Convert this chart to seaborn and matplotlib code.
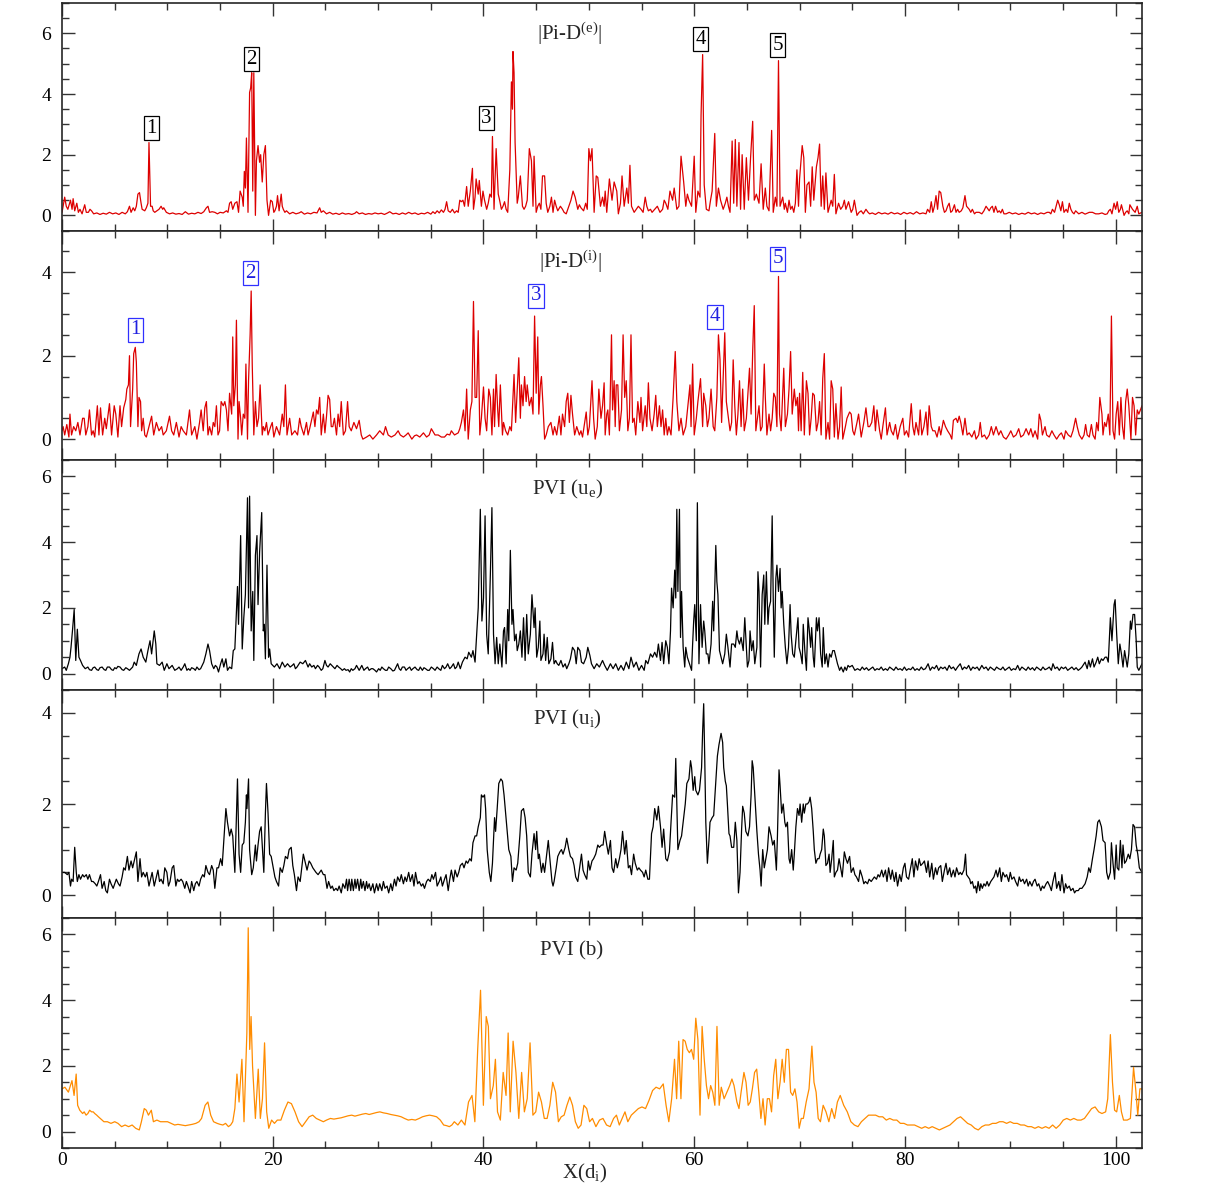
import matplotlib
matplotlib.use("Agg")
import numpy as np
import pandas as pd
import matplotlib.pyplot as plt
from matplotlib.ticker import MultipleLocator
import seaborn as sns

# |Pi-D(e)|  (x, value)
pid_e = [(0.0,0.1),(0.25,0.6),(0.4,0.3),(0.55,0.2),(0.8,0.5),(0.95,0.2),(1.05,0.55),(1.2,0.15),(1.4,0.4),(1.55,0.1),(1.7,0.2),(1.9,0.05),(2.15,0.35),(2.3,0.1),(2.5,0.1),(2.65,0.2),(2.8,0.15),(3.0,0.05),(3.3,0.08),(3.6,0.03),(3.9,0.07),(4.2,0.04),(4.5,0.1),(4.8,0.05),(5.1,0.08),(5.4,0.03),(5.7,0.1),(6.0,0.05),(6.2,0.12),(6.4,0.3),(6.55,0.1),(6.75,0.25),(6.9,0.15),(7.05,0.3),(7.2,0.7),(7.35,0.75),(7.5,0.4),(7.6,0.2),(7.85,0.15),(8.0,0.25),(8.15,0.4),(8.25,2.4),(8.4,0.3),(8.55,0.3),(8.65,0.15),(8.8,0.1),(9.0,0.15),(9.2,0.2),(9.4,0.3),(9.55,0.2),(9.65,0.25),(9.9,0.1),
         (10.2,0.05),(10.5,0.08),(10.8,0.04),(11.1,0.06),(11.4,0.03),(11.7,0.12),(12.0,0.04),(12.3,0.07),(12.6,0.05),(12.9,0.1),(13.2,0.06),(13.45,0.12),(13.7,0.25),(13.85,0.3),(14.0,0.1),(14.25,0.12),(14.5,0.1),(14.75,0.05),(15.0,0.1),(15.3,0.08),(15.6,0.15),(15.75,0.1),(15.9,0.4),(16.05,0.45),(16.2,0.2),(16.3,0.3),(16.4,0.4),(16.6,0.45),(16.75,0.1),(16.9,0.8),(17.1,0.6),(17.2,0.3),(17.3,1.45),(17.4,0.9),(17.5,2.55),(17.65,0.1),(17.8,4.05),(17.9,4.2),(18.0,4.7),(18.1,0.8),(18.2,4.7),(18.35,0.0),(18.45,1.8),(18.6,2.3),(18.75,1.75),(18.85,2.0),(19.0,1.1),(19.15,2.0),(19.3,2.3),(19.45,0.5),(19.6,0.0),(19.8,0.5),(19.95,0.45),
         (20.1,0.1),(20.2,0.15),(20.35,0.3),(20.45,0.65),(20.6,0.15),(20.8,0.7),(20.9,0.3),(21.0,0.2),(21.15,0.1),(21.3,0.15),(21.6,0.05),(21.9,0.1),(22.2,0.05),(22.5,0.08),(22.7,0.12),(23.0,0.04),(23.3,0.08),(23.6,0.05),(23.9,0.1),(24.2,0.08),(24.45,0.25),(24.6,0.1),(24.8,0.15),(25.1,0.05),(25.4,0.1),(25.7,0.04),(26.0,0.07),(26.3,0.03),(26.6,0.08),(26.9,0.04),(27.2,0.06),(27.5,0.03),(27.8,0.07),(27.95,0.12),(28.2,0.05),(28.5,0.08),(28.8,0.03),(29.1,0.06),(29.4,0.04),(29.7,0.08),
         (30.0,0.05),(30.3,0.07),(30.6,0.03),(30.9,0.08),(31.1,0.12),(31.4,0.05),(31.7,0.07),(32.0,0.03),(32.3,0.08),(32.6,0.04),(32.9,0.1),(33.2,0.05),(33.5,0.08),(33.8,0.03),(34.1,0.07),(34.4,0.05),(34.7,0.1),(35.0,0.04),(35.2,0.12),(35.4,0.06),(35.6,0.15),(35.8,0.08),(36.0,0.18),(36.2,0.1),(36.35,0.2),(36.5,0.45),(36.65,0.15),(36.85,0.1),(37.05,0.2),(37.25,0.08),(37.45,0.15),(37.6,0.1),(37.75,0.5),(37.9,0.45),(38.05,0.5),(38.2,0.3),(38.4,0.95),(38.55,0.3),(38.75,0.8),(38.95,1.55),(39.05,0.2),(39.2,0.6),(39.3,1.2),(39.5,0.7),(39.6,1.15),(39.8,0.3),(39.95,0.8),
         (40.1,0.5),(40.3,0.2),(40.45,0.4),(40.6,0.7),(40.75,0.6),(40.85,2.6),(41.0,0.2),(41.2,2.2),(41.4,0.7),(41.5,0.55),(41.7,0.2),(41.85,0.3),(42.0,0.45),(42.15,0.2),(42.3,0.1),(42.5,1.5),(42.65,4.4),(42.75,3.5),(42.8,5.4),(42.9,4.7),(43.0,2.4),(43.2,0.4),(43.3,0.6),(43.5,1.3),(43.7,0.3),(43.85,0.2),(44.0,0.3),(44.15,0.5),(44.35,2.2),(44.55,1.8),(44.7,0.3),(44.8,1.95),(45.0,0.1),(45.15,0.3),(45.3,0.4),(45.45,0.2),(45.6,1.3),(45.8,1.3),(45.95,0.4),(46.1,0.1),(46.3,0.3),(46.45,0.6),(46.6,0.1),(46.75,0.5),(46.9,0.3),(47.05,0.15),(47.3,0.3),(47.5,0.2),(47.65,0.1),(47.85,0.05),(48.1,0.3),(48.3,0.5),(48.5,0.8),(48.7,0.6),(48.95,0.2),(49.1,0.35),(49.25,0.25),(49.5,0.15),(49.7,0.4),(49.85,0.2),
         (50.0,2.2),(50.15,1.8),(50.3,2.2),(50.5,0.1),(50.7,1.3),(50.85,1.25),(51.1,0.3),(51.3,0.6),(51.45,0.3),(51.55,0.8),(51.7,0.1),(51.95,1.2),(52.2,0.5),(52.4,1.1),(52.65,0.8),(52.8,0.05),(53.0,0.4),(53.15,1.3),(53.35,0.3),(53.6,0.9),(53.75,0.4),(53.9,1.65),(54.05,0.3),(54.3,0.1),(54.5,0.2),(54.7,0.3),(54.95,0.2),(55.15,0.1),(55.35,0.6),(55.5,0.3),(55.65,0.15),(55.85,0.2),(56.0,0.1),(56.25,0.2),(56.5,0.3),(56.75,0.1),(57.0,0.2),(57.15,0.5),(57.3,0.4),(57.5,0.2),(57.7,0.8),(57.95,0.5),(58.1,0.9),(58.35,0.2),(58.55,0.3),(58.75,1.95),(59.0,1.1),(59.2,0.3),(59.35,0.7),(59.5,0.5),(59.75,0.3),
         (60.0,1.95),(60.15,0.1),(60.35,0.8),(60.55,0.6),(60.65,3.3),(60.8,5.3),(60.95,1.0),(61.15,0.2),(61.4,0.15),(61.55,0.5),(61.7,0.8),(61.95,2.7),(62.1,0.3),(62.3,0.9),(62.5,0.5),(62.75,0.2),(62.95,0.4),(63.1,0.6),(63.25,0.3),(63.4,0.1),(63.6,2.45),(63.75,0.4),(63.9,2.5),(64.05,0.3),(64.25,2.4),(64.4,0.2),(64.55,2.0),(64.75,0.2),(64.95,1.9),(65.15,0.5),(65.35,1.9),(65.55,3.1),(65.7,0.5),(65.9,0.7),(66.15,0.4),(66.35,1.7),(66.55,0.2),(66.75,0.9),(66.9,0.3),(67.1,0.15),(67.35,2.8),(67.5,0.1),(67.7,0.6),(67.85,0.3),(68.0,5.1),(68.15,0.3),(68.4,0.6),(68.55,0.2),(68.65,0.4),(68.85,0.1),(69.0,0.5),(69.15,0.2),(69.3,0.3),(69.45,0.1),(69.6,0.4),(69.75,1.5),(69.9,0.3),
         (70.0,1.2),(70.25,2.3),(70.4,1.9),(70.55,0.1),(70.7,1.0),(70.9,1.1),(71.05,0.3),(71.2,1.6),(71.35,0.5),(71.6,1.6),(71.75,1.9),(71.9,2.35),(72.05,0.3),(72.2,1.3),(72.35,0.2),(72.5,1.4),(72.7,0.1),(72.85,0.3),(73.0,0.5),(73.15,0.3),(73.3,1.35),(73.45,0.05),(73.7,0.4),(73.9,0.2),(74.1,0.3),(74.25,0.5),(74.4,0.2),(74.65,0.45),(74.9,0.1),(75.05,0.2),(75.2,0.5),(75.45,0.0),(75.65,0.1),(75.85,0.15),(76.05,0.05),(76.3,0.2),(76.5,0.1),(76.65,0.05),(76.9,0.08),(77.2,0.03),(77.5,0.1),(77.8,0.05),(78.1,0.08),(78.4,0.04),(78.7,0.1),(79.0,0.05),(79.3,0.08),(79.6,0.03),(79.9,0.1),
         (80.2,0.05),(80.5,0.09),(80.8,0.04),(81.1,0.12),(81.4,0.05),(81.7,0.08),(82.0,0.05),(82.15,0.2),(82.35,0.1),(82.5,0.45),(82.65,0.1),(82.8,0.3),(82.95,0.65),(83.1,0.2),(83.25,0.8),(83.4,0.75),(83.6,0.3),(83.75,0.1),(83.9,0.15),(84.05,0.3),(84.2,0.4),(84.35,0.1),(84.5,0.15),(84.7,0.35),(84.85,0.1),(85.0,0.2),(85.15,0.1),(85.35,0.15),(85.5,0.25),(85.7,0.65),(85.85,0.3),(86.1,0.2),(86.25,0.1),(86.4,0.2),(86.6,0.05),(86.75,0.1),(87.05,0.1),(87.3,0.05),(87.5,0.15),(87.7,0.3),(88.0,0.15),(88.15,0.25),(88.3,0.3),(88.45,0.1),(88.6,0.3),(88.8,0.1),(88.95,0.15),(89.1,0.08),(89.25,0.2),(89.4,0.05),(89.6,0.05),(89.9,0.1),
         (90.2,0.05),(90.5,0.08),(90.8,0.03),(91.1,0.07),(91.4,0.04),(91.7,0.1),(92.0,0.05),(92.3,0.08),(92.6,0.03),(92.9,0.08),(93.2,0.05),(93.5,0.1),(93.7,0.1),(93.85,0.05),(94.0,0.2),(94.2,0.1),(94.35,0.3),(94.5,0.5),(94.65,0.35),(94.8,0.15),(94.95,0.45),(95.1,0.1),(95.3,0.2),(95.45,0.1),(95.6,0.4),(95.75,0.2),(95.9,0.1),(96.05,0.05),(96.2,0.15),(96.5,0.05),(96.8,0.1),(97.1,0.04),(97.5,0.1),(97.8,0.1),(98.1,0.05),(98.4,0.05),(98.7,0.08),(99.0,0.03),(99.2,0.05),(99.35,0.15),(99.5,0.2),(99.65,0.05),(99.85,0.4),
         (100.0,0.2),(100.15,0.45),(100.3,0.1),(100.45,0.2),(100.55,0.35),(100.8,0.0),(100.95,0.1),(101.1,0.15),(101.25,0.05),(101.35,0.35),(101.6,0.2),(101.85,0.1),(102.05,0.3),(102.2,0.05),(102.5,0.1)]

# |Pi-D(i)|
pid_i = [(0.0,0.2),(0.1,0.3),(0.25,0.1),(0.45,0.35),(0.65,0.05),(0.75,0.6),(0.9,0.1),(1.1,0.3),(1.3,0.2),(1.5,0.4),(1.7,0.1),(1.95,0.5),(2.1,0.5),(2.25,0.1),(2.45,0.3),(2.6,0.7),(2.8,0.1),(2.95,0.2),(3.1,0.05),(3.35,0.8),(3.5,0.1),(3.65,0.75),(3.85,0.1),(4.05,0.5),(4.2,0.25),(4.35,0.55),(4.5,0.85),(4.7,0.1),(4.95,0.8),(5.1,0.6),(5.3,0.05),(5.5,0.8),(5.65,0.3),(5.85,0.75),(6.05,0.95),(6.15,1.2),(6.3,1.3),(6.4,2.0),(6.5,0.3),(6.7,1.2),(6.8,2.05),(6.95,2.2),(7.05,1.85),(7.2,0.3),(7.3,1.0),(7.45,0.9),(7.55,0.2),(7.7,0.5),(7.85,0.1),(8.0,0.05),(8.25,0.3),(8.5,0.55),(8.7,0.1),(8.95,0.4),(9.2,0.2),(9.45,0.3),(9.6,0.1),(9.9,0.2),
         (10.2,0.55),(10.4,0.2),(10.6,0.1),(10.85,0.4),(11.1,0.05),(11.3,0.3),(11.5,0.2),(11.8,0.1),(12.1,0.7),(12.3,0.1),(12.6,0.3),(12.8,0.0),(13.05,0.4),(13.2,0.7),(13.4,0.2),(13.55,0.75),(13.7,0.9),(13.85,0.1),(14.0,0.3),(14.2,0.1),(14.35,0.4),(14.5,0.3),(14.65,0.8),(14.8,0.1),(14.95,0.2),(15.1,0.9),(15.3,0.8),(15.45,0.9),(15.6,0.7),(15.75,0.2),(15.9,1.1),(16.1,0.6),(16.2,2.45),(16.3,0.8),(16.45,1.3),(16.55,2.85),(16.7,0.0),(16.8,0.9),(16.95,0.5),(17.05,0.1),(17.2,0.6),(17.35,0.5),(17.45,1.8),(17.6,0.0),(17.7,1.4),(17.85,2.5),(17.95,3.55),(18.05,1.8),(18.2,0.1),(18.35,0.9),(18.5,0.3),(18.65,0.5),(18.8,1.3),(19.0,0.1),(19.1,0.3),(19.25,0.2),(19.4,0.4),(19.55,0.1),(19.8,0.3),(19.95,0.4),
         (20.1,0.05),(20.35,0.3),(20.5,0.2),(20.65,0.1),(20.9,0.6),(21.05,0.3),(21.2,1.3),(21.35,0.1),(21.6,0.5),(21.8,0.1),(22.1,0.2),(22.35,0.1),(22.55,0.5),(22.7,0.3),(22.95,0.1),(23.2,0.4),(23.35,0.1),(23.5,0.25),(23.85,0.65),(24.0,0.3),(24.15,0.7),(24.3,0.6),(24.45,1.0),(24.6,0.1),(24.8,0.6),(24.95,0.15),(25.1,0.55),(25.25,1.05),(25.4,0.95),(25.55,0.3),(25.7,0.3),(25.85,0.5),(26.05,0.1),(26.2,0.6),(26.35,0.3),(26.5,0.9),(26.7,0.1),(26.9,0.2),(27.1,0.9),(27.25,0.3),(27.45,0.2),(27.7,0.4),(27.95,0.25),(28.2,0.45),(28.4,0.1),(28.55,0.0),(28.9,0.05),(29.2,0.1),(29.5,0.0),(29.85,0.1),
         (30.15,0.2),(30.5,0.1),(30.7,0.3),(30.95,0.1),(31.25,0.05),(31.6,0.1),(31.9,0.2),(32.1,0.1),(32.4,0.05),(32.65,0.1),(32.85,0.15),(33.2,0.0),(33.45,0.08),(33.65,0.1),(33.95,0.05),(34.3,0.15),(34.6,0.05),(34.85,0.1),(35.05,0.25),(35.4,0.1),(35.7,0.1),(36.0,0.05),(36.3,0.05),(36.55,0.12),(36.8,0.1),(36.95,0.2),(37.25,0.1),(37.6,0.15),(37.75,0.25),(37.9,0.4),(38.1,0.7),(38.25,0.2),(38.4,1.2),(38.55,0.0),(38.75,0.7),(38.9,0.9),(39.05,3.3),(39.2,1.0),(39.35,1.0),(39.5,2.6),(39.65,0.1),(39.8,0.5),
         (40.0,1.25),(40.15,0.5),(40.3,0.2),(40.5,1.2),(40.65,1.0),(40.8,0.1),(40.95,1.2),(41.05,0.3),(41.2,1.55),(41.35,0.7),(41.45,0.3),(41.6,1.3),(41.8,0.1),(41.9,0.4),(42.1,0.2),(42.3,0.1),(42.5,0.3),(42.65,0.2),(42.9,1.55),(43.05,0.4),(43.2,1.2),(43.35,1.95),(43.5,0.5),(43.6,1.3),(43.75,0.8),(43.9,1.5),(44.05,0.9),(44.15,1.3),(44.35,0.8),(44.55,1.0),(44.7,0.6),(44.85,2.95),(45.0,1.1),(45.15,2.45),(45.25,0.6),(45.4,1.3),(45.5,1.5),(45.65,0.8),(45.8,0.0),(45.95,0.1),(46.15,0.3),(46.4,0.4),(46.6,0.1),(46.75,0.3),(46.95,0.1),(47.2,0.55),(47.35,0.1),(47.5,0.6),(47.7,0.3),(47.85,0.9),(48.0,1.1),(48.15,0.4),(48.3,1.05),(48.45,0.6),(48.65,0.1),(48.85,0.3),(49.1,0.1),(49.25,0.2),(49.4,0.05),(49.55,0.3),(49.75,0.65),(49.9,0.1),
         (50.05,0.3),(50.3,1.4),(50.45,0.5),(50.6,0.0),(50.8,0.3),(50.95,1.2),(51.15,0.5),(51.3,0.8),(51.45,1.35),(51.55,0.1),(51.7,0.6),(51.8,0.7),(51.95,0.1),(52.15,2.5),(52.25,0.7),(52.4,1.4),(52.5,0.3),(52.6,1.3),(52.75,1.3),(52.9,0.2),(53.1,0.7),(53.25,2.5),(53.4,1.0),(53.55,1.4),(53.7,0.2),(53.85,0.5),(54.0,2.5),(54.15,0.4),(54.3,0.5),(54.45,0.1),(54.65,0.9),(54.85,0.4),(54.95,1.0),(55.1,0.2),(55.35,0.8),(55.5,0.3),(55.65,1.35),(55.8,0.5),(56.0,0.2),(56.2,0.6),(56.35,1.05),(56.5,0.3),(56.7,0.8),(56.85,0.3),(57.0,0.7),(57.15,0.1),(57.3,0.5),(57.45,0.1),(57.6,0.3),(57.8,0.1),(58.0,1.0),(58.2,2.1),(58.35,0.9),(58.55,0.2),(58.75,0.5),(58.95,0.1),(59.2,0.3),(59.4,0.8),(59.6,1.3),(59.7,0.3),(59.85,1.8),
         (60.0,0.1),(60.2,0.5),(60.35,0.9),(60.6,1.45),(60.8,0.3),(60.9,1.1),(61.1,0.8),(61.25,0.3),(61.4,0.5),(61.6,1.2),(61.8,0.3),(61.95,0.2),(62.15,1.0),(62.3,2.5),(62.45,1.9),(62.6,0.4),(62.75,1.5),(62.9,2.55),(63.05,0.9),(63.25,0.5),(63.4,0.2),(63.55,0.4),(63.7,1.9),(63.85,0.8),(64.0,0.1),(64.15,0.6),(64.3,1.4),(64.45,0.3),(64.6,1.2),(64.75,0.2),(64.95,0.5),(65.15,1.3),(65.25,1.7),(65.4,0.6),(65.55,2.1),(65.7,3.2),(65.85,0.2),(66.0,0.5),(66.15,0.8),(66.3,0.2),(66.45,0.3),(66.65,1.8),(66.75,1.0),(66.9,0.1),(67.1,0.6),(67.25,0.2),(67.4,0.5),(67.55,1.1),(67.7,1.0),(67.85,0.3),(68.0,3.9),(68.1,0.6),(68.25,0.2),(68.35,0.8),(68.5,1.7),(68.65,0.3),(68.85,0.6),(69.0,1.2),(69.15,2.1),(69.3,0.6),(69.5,1.2),(69.65,0.8),(69.8,1.0),(69.9,0.2),
         (70.0,1.1),(70.15,0.2),(70.3,1.6),(70.45,0.1),(70.65,1.4),(70.8,1.1),(70.95,0.1),(71.1,0.5),(71.25,1.1),(71.4,1.05),(71.6,0.2),(71.75,0.4),(71.9,0.9),(72.05,0.1),(72.2,1.45),(72.35,2.05),(72.5,0.0),(72.7,0.4),(72.85,0.0),(73.0,1.4),(73.15,1.2),(73.3,0.05),(73.45,0.85),(73.65,0.0),(73.8,0.3),(73.95,1.25),(74.1,0.0),(74.35,0.3),(74.5,0.5),(74.75,0.65),(74.9,0.6),(75.05,0.2),(75.2,0.1),(75.45,0.4),(75.6,0.6),(75.85,0.05),(76.1,0.4),(76.3,0.75),(76.5,0.3),(76.65,0.3),(76.85,0.4),(77.05,0.8),(77.2,0.2),(77.35,0.7),(77.6,0.2),(77.75,0.0),(77.9,0.3),(78.15,0.75),(78.3,0.1),(78.55,0.4),(78.7,0.2),(78.9,0.1),(79.1,0.35),(79.3,0.0),(79.55,0.3),(79.8,0.5),(79.95,0.1),
         (80.15,0.2),(80.35,0.05),(80.6,0.85),(80.75,0.3),(80.9,0.1),(81.05,0.4),(81.3,0.1),(81.45,0.7),(81.6,0.1),(81.8,0.3),(82.0,0.65),(82.15,0.1),(82.3,0.8),(82.5,0.3),(82.65,0.2),(82.85,0.2),(83.05,0.05),(83.25,0.3),(83.4,0.1),(83.65,0.45),(83.85,0.3),(84.05,0.2),(84.3,0.1),(84.45,0.0),(84.6,0.45),(84.85,0.5),(85.0,0.4),(85.15,0.55),(85.3,0.4),(85.5,0.1),(85.7,0.5),(85.9,0.1),(86.1,0.15),(86.35,0.05),(86.6,0.2),(86.75,0.0),(87.0,0.1),(87.15,0.4),(87.3,0.05),(87.55,0.1),(87.75,0.0),(88.0,0.1),(88.2,0.3),(88.4,0.1),(88.65,0.3),(88.9,0.1),(89.1,0.2),(89.35,0.05),(89.6,0.0),(89.85,0.1),
         (90.05,0.2),(90.3,0.05),(90.55,0.1),(90.8,0.25),(91.0,0.05),(91.25,0.1),(91.5,0.25),(91.75,0.1),(91.95,0.25),(92.15,0.05),(92.35,0.2),(92.6,0.0),(92.75,0.6),(92.9,0.45),(93.05,0.1),(93.3,0.3),(93.45,0.1),(93.7,0.05),(93.95,0.2),(94.15,0.1),(94.4,0.0),(94.65,0.1),(94.85,0.15),(95.1,0.0),(95.25,0.2),(95.5,0.1),(95.75,0.05),(95.95,0.2),(96.2,0.5),(96.35,0.3),(96.55,0.1),(96.8,0.0),(97.0,0.1),(97.15,0.35),(97.3,0.1),(97.5,0.05),(97.7,0.35),(97.85,0.1),(98.05,0.0),(98.2,0.4),(98.35,0.2),(98.5,1.0),(98.7,0.6),(98.8,0.1),(98.95,0.4),(99.1,0.3),(99.3,0.6),(99.45,0.1),(99.6,2.95),(99.75,0.2),(99.9,0.0),
         (100.05,0.6),(100.2,0.9),(100.35,0.1),(100.5,1.0),(100.65,0.3),(100.8,0.0),(100.95,0.9),(101.1,1.2),(101.25,0.8),(101.45,0.0),(101.6,1.0),(101.75,0.8),(101.9,0.1),(102.05,0.7),(102.2,0.6),(102.5,0.8)]

# PVI (u_e)
pvi_ue = [(0.0,0.15),(0.25,0.2),(0.4,0.1),(0.6,0.3),(0.75,0.5),(0.85,0.8),(1.0,1.35),(1.15,1.95),(1.3,0.4),(1.45,1.35),(1.6,0.5),(1.75,0.4),(1.95,0.25),(2.2,0.15),(2.45,0.2),(2.6,0.12),(2.8,0.1),(2.95,0.18),(3.1,0.2),(3.3,0.12),(3.45,0.1),(3.6,0.18),(3.8,0.2),(4.0,0.12),(4.15,0.1),(4.3,0.2),(4.5,0.2),(4.7,0.12),(4.85,0.1),(5.0,0.18),(5.15,0.15),(5.3,0.22),(5.5,0.2),(5.7,0.12),(5.85,0.1),(6.05,0.18),(6.2,0.15),(6.4,0.1),(6.55,0.15),(6.7,0.2),(6.85,0.35),(7.05,0.25),(7.3,0.6),(7.5,0.75),(7.7,0.5),(7.95,0.35),(8.15,0.7),(8.35,1.0),(8.5,0.6),(8.75,1.3),(8.9,0.9),(9.0,0.3),(9.25,0.25),(9.5,0.35),(9.7,0.1),(9.95,0.3),
          (10.15,0.15),(10.3,0.2),(10.45,0.25),(10.7,0.1),(10.95,0.15),(11.1,0.2),(11.3,0.1),(11.5,0.2),(11.65,0.3),(11.85,0.1),(12.0,0.15),(12.15,0.1),(12.3,0.18),(12.5,0.15),(12.65,0.1),(12.8,0.2),(13.0,0.12),(13.15,0.15),(13.3,0.25),(13.45,0.35),(13.65,0.6),(13.85,0.9),(14.0,0.7),(14.2,0.3),(14.4,0.15),(14.55,0.25),(14.7,0.2),(14.85,0.05),(15.05,0.3),(15.2,0.45),(15.35,0.2),(15.55,0.45),(15.7,0.1),(15.9,0.2),(16.1,0.15),(16.25,0.7),(16.4,0.75),(16.65,2.65),(16.75,1.5),(16.95,4.2),(17.1,0.75),(17.25,1.7),(17.4,2.4),(17.6,5.35),(17.7,2.0),(17.8,5.4),(17.95,1.3),(18.1,2.5),(18.2,0.4),(18.35,3.6),(18.5,4.2),(18.6,2.1),(18.75,3.7),(18.95,4.9),(19.1,1.3),(19.2,1.5),(19.3,0.45),(19.45,3.3),(19.6,0.5),(19.7,0.75),(19.85,0.3),
          (20.0,0.25),(20.15,0.2),(20.4,0.3),(20.65,0.15),(20.9,0.35),(21.15,0.2),(21.4,0.3),(21.65,0.2),(21.85,0.25),(22.0,0.3),(22.15,0.15),(22.3,0.2),(22.6,0.35),(22.85,0.3),(23.1,0.4),(23.35,0.2),(23.5,0.3),(23.7,0.2),(23.9,0.25),(24.05,0.15),(24.25,0.25),(24.4,0.2),(24.6,0.1),(24.75,0.15),(24.95,0.4),(25.1,0.25),(25.25,0.2),(25.45,0.3),(25.6,0.25),(25.75,0.2),(25.9,0.15),(26.1,0.25),(26.25,0.2),(26.45,0.15),(26.6,0.1),(26.8,0.15),(26.95,0.1),(27.15,0.12),(27.3,0.05),(27.45,0.15),(27.6,0.1),(27.8,0.15),(27.95,0.25),(28.2,0.1),(28.45,0.25),(28.65,0.1),(28.8,0.15),(29.0,0.2),(29.15,0.1),(29.35,0.15),(29.5,0.15),(29.7,0.1),(29.85,0.05),
          (30.05,0.15),(30.2,0.1),(30.35,0.2),(30.5,0.15),(30.7,0.1),(30.85,0.1),(31.0,0.2),(31.2,0.15),(31.4,0.08),(31.55,0.1),(31.7,0.2),(31.85,0.3),(32.0,0.15),(32.15,0.1),(32.3,0.2),(32.5,0.2),(32.65,0.1),(32.8,0.15),(33.0,0.2),(33.15,0.1),(33.3,0.15),(33.5,0.2),(33.7,0.12),(33.85,0.1),(34.0,0.2),(34.2,0.1),(34.35,0.18),(34.5,0.15),(34.7,0.1),(34.85,0.1),(35.05,0.2),(35.25,0.15),(35.4,0.1),(35.6,0.2),(35.75,0.15),(35.95,0.1),(36.1,0.25),(36.3,0.15),(36.45,0.2),(36.6,0.3),(36.8,0.15),(36.95,0.2),(37.15,0.3),(37.3,0.15),(37.45,0.2),(37.6,0.35),(37.8,0.15),(38.0,0.35),(38.25,0.5),(38.45,0.45),(38.6,0.65),(38.85,0.5),(39.0,0.7),(39.2,0.35),(39.35,1.2),(39.5,2.0),(39.7,5.0),(39.85,1.6),
          (40.0,2.3),(40.15,4.8),(40.3,1.2),(40.45,0.6),(40.65,3.0),(40.8,5.05),(40.95,1.2),(41.1,0.3),(41.25,1.1),(41.4,0.3),(41.55,0.9),(41.75,0.2),(41.9,1.3),(42.0,1.4),(42.15,0.3),(42.3,1.95),(42.4,1.0),(42.55,3.75),(42.7,1.5),(42.8,1.95),(42.95,1.0),(43.1,1.2),(43.2,0.7),(43.35,0.9),(43.5,1.3),(43.65,0.5),(43.8,1.7),(43.95,0.4),(44.1,1.8),(44.25,0.6),(44.45,1.2),(44.6,2.4),(44.8,1.4),(44.9,2.0),(45.05,0.5),(45.2,0.8),(45.35,1.6),(45.45,0.4),(45.65,0.6),(45.75,1.2),(45.9,0.4),(46.05,1.1),(46.2,0.3),(46.4,0.45),(46.55,0.95),(46.7,0.3),(46.85,0.4),(47.0,0.3),(47.15,0.25),(47.35,0.4),(47.55,0.2),(47.75,0.3),(47.9,0.15),(48.1,0.3),(48.25,0.45),(48.45,0.8),(48.65,0.7),(48.8,0.3),(48.95,0.8),(49.15,0.7),(49.3,0.35),(49.5,0.3),(49.75,0.5),(49.9,0.8),
          (50.1,0.55),(50.25,0.3),(50.5,0.15),(50.75,0.3),(51.0,0.2),(51.3,0.4),(51.5,0.25),(51.75,0.1),(52.05,0.3),(52.3,0.15),(52.55,0.3),(52.8,0.1),(53.05,0.25),(53.3,0.1),(53.55,0.35),(53.8,0.15),(54.0,0.5),(54.25,0.2),(54.5,0.35),(54.75,0.1),(55.0,0.25),(55.25,0.1),(55.4,0.4),(55.6,0.3),(55.85,0.6),(56.05,0.5),(56.25,0.65),(56.45,0.5),(56.6,0.9),(56.8,0.4),(56.95,0.95),(57.1,0.3),(57.3,1.0),(57.45,0.8),(57.6,0.3),(57.75,1.3),(57.85,2.6),(58.0,2.0),(58.15,3.15),(58.25,2.3),(58.35,5.0),(58.45,2.5),(58.6,5.0),(58.7,1.1),(58.8,2.5),(58.95,0.8),(59.1,0.2),(59.2,0.8),(59.35,0.5),(59.55,0.3),(59.75,0.1),(59.85,0.9),(59.95,1.6),
          (60.05,2.1),(60.2,1.0),(60.3,5.2),(60.45,0.3),(60.6,2.1),(60.75,0.8),(60.9,1.6),(61.0,1.3),(61.15,0.6),(61.3,0.6),(61.4,0.3),(61.6,0.9),(61.75,2.2),(61.85,1.3),(62.05,3.9),(62.15,2.8),(62.25,2.4),(62.4,0.7),(62.55,0.5),(62.7,0.3),(62.9,0.6),(63.05,1.2),(63.2,0.8),(63.4,0.2),(63.55,0.9),(63.75,0.9),(63.9,0.8),(64.05,1.3),(64.15,1.05),(64.3,0.9),(64.45,1.1),(64.65,0.7),(64.8,1.7),(64.9,1.1),(65.05,0.2),(65.2,0.4),(65.3,1.3),(65.45,0.7),(65.6,1.0),(65.75,0.3),(65.95,0.8),(66.05,3.1),(66.15,2.5),(66.3,0.2),(66.45,2.4),(66.6,3.0),(66.7,1.5),(66.85,3.1),(67.0,1.5),(67.1,2.0),(67.25,2.2),(67.4,4.8),(67.5,2.3),(67.6,0.5),(67.75,2.9),(67.85,3.3),(68.0,2.5),(68.15,3.2),(68.25,2.0),(68.35,2.5),(68.5,1.5),(68.65,0.8),(68.8,0.3),(68.95,0.8),(69.1,2.1),(69.2,1.2),(69.35,0.6),(69.5,0.5),(69.65,1.0),(69.85,1.7),(69.95,0.8),
          (70.1,0.6),(70.25,0.3),(70.35,1.5),(70.5,0.7),(70.65,0.1),(70.8,1.7),(70.9,1.4),(71.05,0.8),(71.15,1.4),(71.3,0.5),(71.4,0.2),(71.6,1.7),(71.7,1.3),(71.85,1.7),(72.0,0.6),(72.15,0.2),(72.25,1.4),(72.4,0.3),(72.55,0.6),(72.7,0.2),(72.85,0.6),(73.0,0.5),(73.15,0.7),(73.3,0.7),(73.45,0.5),(73.6,0.3),(73.8,0.1),(73.95,0.2),(74.15,0.05),(74.3,0.2),(74.45,0.1),(74.6,0.25),(74.75,0.2),(75.0,0.25),(75.25,0.1),(75.5,0.15),(75.75,0.1),(75.95,0.2),(76.15,0.12),(76.35,0.18),(76.55,0.1),(76.75,0.15),(76.95,0.2),(77.15,0.1),(77.35,0.15),(77.55,0.12),(77.75,0.2),(77.95,0.1),(78.15,0.15),(78.35,0.1),(78.55,0.2),(78.75,0.15),(78.95,0.1),(79.15,0.2),(79.35,0.12),(79.55,0.15),(79.75,0.1),(79.95,0.2),
          (80.15,0.1),(80.35,0.15),(80.55,0.12),(80.75,0.2),(80.95,0.1),(81.15,0.15),(81.35,0.1),(81.55,0.2),(81.75,0.12),(81.95,0.15),(82.2,0.3),(82.4,0.1),(82.6,0.2),(82.8,0.15),(83.0,0.25),(83.2,0.1),(83.4,0.2),(83.6,0.15),(83.8,0.2),(84.0,0.1),(84.2,0.25),(84.4,0.15),(84.6,0.2),(84.8,0.1),(85.0,0.2),(85.25,0.3),(85.45,0.12),(85.65,0.2),(85.85,0.15),(86.05,0.25),(86.25,0.1),(86.45,0.2),(86.65,0.15),(86.85,0.2),(87.05,0.1),(87.3,0.25),(87.5,0.15),(87.7,0.2),(87.9,0.1),(88.1,0.2),(88.3,0.15),(88.5,0.1),(88.7,0.2),(88.9,0.15),(89.1,0.12),(89.3,0.2),(89.5,0.1),(89.7,0.15),(89.9,0.2),
          (90.1,0.1),(90.3,0.15),(90.5,0.12),(90.7,0.25),(90.9,0.1),(91.1,0.2),(91.3,0.15),(91.5,0.1),(91.7,0.2),(91.9,0.12),(92.1,0.18),(92.3,0.1),(92.5,0.2),(92.7,0.15),(92.9,0.1),(93.1,0.2),(93.3,0.12),(93.5,0.15),(93.7,0.2),(93.9,0.1),(94.05,0.3),(94.25,0.15),(94.45,0.2),(94.65,0.1),(94.85,0.2),(95.05,0.15),(95.25,0.2),(95.45,0.1),(95.65,0.15),(95.85,0.2),(96.05,0.12),(96.25,0.18),(96.45,0.1),(96.65,0.15),(96.8,0.2),(97.1,0.35),(97.3,0.15),(97.45,0.4),(97.6,0.2),(97.8,0.45),(97.95,0.2),(98.15,0.35),(98.3,0.5),(98.45,0.3),(98.65,0.45),(98.8,0.4),(99.0,0.5),(99.15,0.5),(99.3,0.35),(99.5,1.7),(99.65,1.0),(99.85,2.1),(99.95,2.25),
          (100.1,1.2),(100.25,0.3),(100.4,0.9),(100.55,0.6),(100.7,0.2),(100.85,0.7),(101.0,0.4),(101.1,0.2),(101.25,0.6),(101.4,1.6),(101.5,1.35),(101.65,1.8),(101.8,1.8),(101.95,1.0),(102.05,0.2),(102.2,0.1),(102.5,0.3)]

# PVI (u_i)
pvi_ui = [(0.0,0.5),(0.25,0.5),(0.5,0.45),(0.65,0.5),(0.8,0.2),(0.9,0.35),(1.05,0.3),(1.2,1.05),(1.35,0.5),(1.45,0.3),(1.6,0.45),(1.75,0.35),(1.95,0.45),(2.1,0.4),(2.3,0.45),(2.45,0.35),(2.6,0.45),(2.8,0.3),(2.95,0.3),(3.15,0.25),(3.3,0.2),(3.45,0.3),(3.65,0.45),(3.8,0.15),(4.0,0.3),(4.15,0.1),(4.3,0.05),(4.5,0.35),(4.65,0.25),(4.85,0.15),(5.0,0.25),(5.15,0.35),(5.35,0.25),(5.5,0.2),(5.7,0.4),(5.85,0.6),(6.0,0.55),(6.2,0.85),(6.35,0.55),(6.55,0.75),(6.7,0.6),(6.85,0.75),(7.05,0.95),(7.2,0.3),(7.4,0.8),(7.55,0.4),(7.7,0.5),(7.9,0.4),(8.05,0.5),(8.25,0.2),(8.4,0.35),(8.55,0.5),(8.75,0.2),(8.9,0.35),(9.1,0.55),(9.25,0.3),(9.4,0.35),(9.6,0.25),(9.75,0.6),(9.95,0.5),
          (10.1,0.2),(10.25,0.3),(10.45,0.6),(10.6,0.65),(10.8,0.2),(10.95,0.35),(11.1,0.3),(11.3,0.35),(11.45,0.3),(11.65,0.15),(11.8,0.3),(11.95,0.2),(12.15,0.05),(12.3,0.3),(12.5,0.1),(12.65,0.25),(12.8,0.3),(13.0,0.2),(13.15,0.35),(13.35,0.45),(13.5,0.4),(13.65,0.65),(13.85,0.5),(14.0,0.45),(14.2,0.65),(14.35,0.55),(14.5,0.15),(14.7,0.6),(14.85,0.6),(15.05,0.8),(15.2,0.65),(15.35,1.2),(15.55,1.9),(15.7,1.6),(15.9,1.3),(16.05,1.45),(16.2,1.3),(16.4,0.5),(16.65,2.55),(16.8,0.9),(16.95,0.5),(17.1,1.1),(17.25,1.15),(17.4,1.6),(17.5,2.2),(17.55,1.9),(17.7,2.55),(17.8,1.0),(18.0,0.45),(18.15,0.6),(18.35,1.1),(18.45,0.75),(18.6,1.1),(18.75,1.4),(18.9,1.5),(19.0,1.1),(19.15,0.5),(19.3,1.8),(19.4,2.45),(19.55,1.8),(19.7,0.9),(19.85,0.85),
          (20.05,0.6),(20.2,0.4),(20.35,0.3),(20.55,0.2),(20.7,0.6),(20.9,0.5),(21.05,0.65),(21.2,0.85),(21.4,0.8),(21.55,1.0),(21.75,1.05),(21.9,0.65),(22.05,0.45),(22.25,0.1),(22.4,0.4),(22.6,0.3),(22.75,0.6),(22.9,0.9),(23.1,0.7),(23.25,0.55),(23.45,0.75),(23.6,0.7),(23.8,0.6),(23.95,0.55),(24.1,0.5),(24.3,0.45),(24.45,0.5),(24.6,0.55),(24.8,0.45),(24.95,0.45),(25.15,0.15),(25.3,0.3),(25.5,0.15),(25.65,0.2),(25.8,0.1),(26.0,0.15),(26.15,0.1),(26.3,0.2),(26.5,0.05),(26.65,0.25),(26.85,0.15),(27.0,0.35),(27.1,0.1),(27.25,0.35),(27.4,0.1),(27.5,0.35),(27.65,0.1),(27.8,0.35),(27.9,0.15),(28.05,0.35),(28.2,0.1),(28.35,0.35),(28.45,0.15),(28.6,0.3),(28.75,0.1),(28.9,0.3),(29.0,0.15),(29.15,0.25),(29.3,0.1),(29.5,0.25),(29.65,0.05),(29.85,0.25),
          (30.0,0.1),(30.15,0.25),(30.35,0.1),(30.5,0.3),(30.65,0.15),(30.85,0.2),(31.0,0.05),(31.2,0.25),(31.35,0.1),(31.55,0.35),(31.7,0.2),(31.85,0.4),(32.05,0.3),(32.2,0.45),(32.4,0.25),(32.55,0.4),(32.7,0.3),(32.9,0.5),(33.05,0.3),(33.25,0.45),(33.4,0.2),(33.55,0.5),(33.75,0.25),(33.9,0.3),(34.1,0.2),(34.25,0.25),(34.4,0.15),(34.6,0.3),(34.75,0.35),(34.95,0.3),(35.1,0.45),(35.25,0.35),(35.45,0.5),(35.6,0.2),(35.8,0.3),(35.95,0.4),(36.1,0.2),(36.3,0.35),(36.45,0.45),(36.65,0.1),(36.8,0.35),(36.95,0.55),(37.15,0.3),(37.3,0.55),(37.5,0.4),(37.65,0.5),(37.8,0.65),(38.0,0.7),(38.15,0.6),(38.35,0.75),(38.5,0.7),(38.7,0.8),(38.85,0.75),(39.0,1.15),(39.2,1.3),(39.35,1.3),(39.5,1.5),(39.7,1.7),(39.8,2.2),(39.95,2.15),
          (40.1,2.2),(40.2,1.9),(40.35,1.0),(40.55,0.5),(40.7,0.3),(40.85,0.7),(41.05,1.7),(41.15,1.4),(41.3,1.9),(41.45,2.45),(41.65,2.55),(41.8,2.5),(41.95,2.2),(42.1,1.8),(42.25,1.4),(42.4,1.0),(42.6,0.85),(42.75,0.3),(42.9,0.6),(43.1,0.55),(43.25,0.7),(43.45,1.3),(43.6,1.85),(43.8,1.9),(43.95,1.7),(44.1,1.3),(44.25,0.5),(44.45,0.4),(44.6,0.9),(44.8,1.35),(44.95,1.0),(45.05,1.4),(45.2,0.8),(45.3,0.9),(45.5,0.5),(45.65,0.7),(45.8,0.5),(45.95,0.8),(46.15,1.2),(46.3,0.8),(46.5,0.3),(46.6,0.2),(46.7,0.3),(46.9,0.6),(47.05,0.85),(47.25,0.95),(47.4,1.0),(47.55,0.9),(47.75,1.05),(47.9,1.25),(48.1,1.0),(48.25,0.85),(48.45,0.8),(48.6,0.65),(48.75,0.4),(48.95,0.3),(49.1,0.55),(49.3,0.9),(49.45,0.55),(49.6,0.45),(49.8,0.35),(49.95,0.75),
          (50.1,0.55),(50.3,0.75),(50.45,0.8),(50.65,0.9),(50.85,1.1),(51.0,1.05),(51.2,1.1),(51.35,1.1),(51.5,1.4),(51.7,1.1),(51.85,0.9),(52.05,1.2),(52.2,0.6),(52.35,0.5),(52.55,0.8),(52.7,0.6),(52.9,0.8),(53.05,1.0),(53.2,1.4),(53.4,0.9),(53.55,1.2),(53.75,0.6),(53.9,0.65),(54.05,0.45),(54.25,0.9),(54.4,0.7),(54.6,0.55),(54.75,0.6),(54.9,0.55),(55.1,0.5),(55.25,0.4),(55.4,0.55),(55.6,0.35),(55.75,0.35),(55.95,1.35),(56.1,1.5),(56.25,1.9),(56.45,1.65),(56.6,1.95),(56.8,1.5),(56.95,1.05),(57.1,1.45),(57.3,0.8),(57.45,0.75),(57.65,0.95),(57.8,1.6),(57.95,2.2),(58.15,2.15),(58.25,3.0),(58.35,2.0),(58.45,1.0),(58.65,1.2),(58.8,1.3),(59.0,1.7),(59.15,2.0),(59.3,2.45),(59.5,2.55),(59.65,2.95),(59.75,2.8),(59.9,2.3),
          (60.05,2.6),(60.15,2.3),(60.35,2.2),(60.5,2.3),(60.7,2.8),(60.8,3.6),(60.9,4.2),(61.0,3.0),(61.1,1.6),(61.25,0.7),(61.4,1.2),(61.5,1.6),(61.7,1.7),(61.85,1.75),(62.05,2.5),(62.2,3.05),(62.35,3.3),(62.55,3.55),(62.7,3.35),(62.8,2.8),(62.95,2.5),(63.05,2.4),(63.15,2.0),(63.3,1.35),(63.4,1.3),(63.55,1.05),(63.75,1.05),(63.9,1.6),(64.05,1.2),(64.2,0.05),(64.35,0.5),(64.5,1.45),(64.6,1.95),(64.75,1.8),(64.9,1.4),(65.1,1.3),(65.25,1.5),(65.4,2.2),(65.5,2.95),(65.6,2.8),(65.75,2.2),(65.95,1.4),(66.1,0.9),(66.25,0.55),(66.35,0.2),(66.5,1.0),(66.65,0.6),(66.8,0.8),(66.95,1.0),(67.1,1.5),(67.3,1.3),(67.45,1.1),(67.6,1.2),(67.8,0.55),(67.9,1.3),(68.05,2.75),(68.15,2.4),(68.3,1.8),(68.45,2.0),(68.6,1.6),(68.7,1.5),(68.85,1.6),(69.0,0.8),(69.1,0.7),(69.25,1.0),(69.4,0.55),(69.5,0.9),(69.65,1.5),(69.8,1.9),(69.95,1.75),
          (70.05,2.0),(70.2,1.6),(70.35,2.0),(70.45,1.8),(70.6,2.0),(70.75,2.0),(70.9,2.05),(71.0,2.15),(71.15,1.9),(71.3,1.4),(71.4,1.0),(71.55,0.7),(71.7,0.8),(71.85,0.8),(71.95,0.9),(72.1,1.0),(72.25,1.45),(72.35,1.3),(72.5,0.65),(72.65,0.7),(72.8,0.9),(72.9,0.5),(73.05,0.8),(73.2,1.2),(73.3,0.4),(73.45,0.5),(73.6,0.55),(73.75,0.8),(73.9,0.6),(74.05,0.4),(74.25,0.95),(74.4,0.8),(74.55,0.7),(74.75,0.85),(74.9,0.5),(75.1,0.6),(75.25,0.45),(75.4,0.4),(75.6,0.3),(75.75,0.55),(75.95,0.4),(76.1,0.25),(76.25,0.3),(76.45,0.25),(76.6,0.35),(76.8,0.3),(76.95,0.35),(77.1,0.4),(77.3,0.35),(77.45,0.45),(77.6,0.4),(77.8,0.55),(77.95,0.4),(78.15,0.55),(78.3,0.3),(78.45,0.6),(78.65,0.35),(78.8,0.55),(79.0,0.3),(79.15,0.5),(79.3,0.2),(79.5,0.45),(79.65,0.3),(79.85,0.6),
          (80.0,0.7),(80.15,0.4),(80.35,0.35),(80.5,0.55),(80.7,0.8),(80.85,0.4),(81.0,0.75),(81.2,0.55),(81.35,0.8),(81.5,0.65),(81.7,0.7),(81.85,0.75),(82.05,0.5),(82.2,0.75),(82.35,0.4),(82.55,0.7),(82.7,0.35),(82.9,0.6),(83.05,0.45),(83.2,0.6),(83.4,0.65),(83.55,0.3),(83.75,0.55),(83.9,0.7),(84.05,0.45),(84.25,0.6),(84.4,0.4),(84.6,0.55),(84.75,0.4),(84.9,0.6),(85.1,0.45),(85.25,0.5),(85.4,0.45),(85.6,0.55),(85.75,0.9),(85.85,0.45),(86.0,0.4),(86.15,0.35),(86.25,0.25),(86.4,0.3),(86.55,0.15),(86.7,0.2),(86.8,0.05),(86.95,0.3),(87.1,0.1),(87.2,0.25),(87.35,0.15),(87.5,0.25),(87.65,0.2),(87.8,0.3),(87.95,0.2),(88.15,0.3),(88.3,0.35),(88.45,0.4),(88.65,0.55),(88.8,0.4),(89.0,0.6),(89.15,0.3),(89.3,0.5),(89.5,0.4),(89.65,0.45),(89.85,0.3),
          (90.0,0.5),(90.15,0.35),(90.35,0.4),(90.5,0.3),(90.7,0.2),(90.85,0.4),(91.0,0.3),(91.2,0.35),(91.35,0.25),(91.55,0.35),(91.7,0.2),(91.85,0.3),(92.05,0.2),(92.2,0.3),(92.35,0.35),(92.55,0.2),(92.7,0.25),(92.9,0.1),(93.05,0.2),(93.2,0.15),(93.4,0.25),(93.55,0.3),(93.75,0.2),(93.9,0.1),(94.05,0.3),(94.25,0.5),(94.4,0.15),(94.6,0.3),(94.75,0.1),(94.9,0.45),(95.1,0.05),(95.25,0.25),(95.4,0.15),(95.6,0.2),(95.75,0.1),(95.95,0.15),(96.1,0.05),(96.25,0.1),(96.45,0.1),(96.6,0.15),(96.8,0.15),(96.95,0.2),(97.1,0.25),(97.3,0.4),(97.45,0.6),(97.6,0.5),(97.8,0.8),(97.95,1.0),(98.15,1.3),(98.3,1.6),(98.45,1.65),(98.65,1.5),(98.8,1.2),(99.0,1.15),(99.15,0.5),(99.3,0.35),(99.5,0.5),(99.6,1.15),(99.75,0.7),(99.9,0.35),
          (100.05,1.1),(100.15,0.6),(100.3,0.55),(100.45,1.2),(100.6,0.6),(100.7,1.1),(100.85,0.7),(101.0,0.75),(101.2,0.9),(101.35,0.8),(101.5,1.0),(101.65,1.55),(101.8,1.5),(101.95,1.1),(102.1,0.9),(102.25,0.6),(102.5,0.5)]

# PVI (b)
pvi_b = [(0.0,1.3),(0.27,1.35),(0.6,1.2),(0.94,1.55),(1.14,1.1),(1.34,1.75),(1.48,0.8),(1.68,0.65),(1.95,0.55),(2.1,0.6),(2.28,0.5),(2.45,0.55),(2.62,0.65),(2.8,0.6),(2.96,0.6),(3.1,0.55),(3.29,0.5),(3.45,0.45),(3.63,0.4),(3.8,0.35),(3.97,0.3),(4.3,0.3),(4.64,0.25),(5.0,0.3),(5.31,0.25),(5.65,0.15),(5.98,0.2),(6.32,0.15),(6.65,0.2),(6.99,0.1),(7.33,0.05),(7.53,0.3),(7.8,0.7),(8.0,0.65),(8.2,0.5),(8.47,0.65),(8.67,0.3),(9.0,0.35),(9.34,0.3),(9.68,0.3),
         (10.01,0.3),(10.35,0.25),(10.69,0.2),(11.0,0.22),(11.36,0.2),(11.7,0.18),(12.03,0.2),(12.35,0.22),(12.7,0.25),(13.0,0.3),(13.24,0.4),(13.58,0.8),(13.84,0.9),(14.11,0.5),(14.38,0.3),(14.72,0.25),(15.0,0.22),(15.26,0.2),(15.52,0.25),(15.79,0.15),(16.0,0.2),(16.2,0.3),(16.4,0.7),(16.6,1.75),(16.8,0.9),(17.07,2.2),(17.27,0.3),(17.54,3.0),(17.67,6.2),(17.81,2.5),(17.94,3.5),(18.08,2.0),(18.35,0.4),(18.62,1.9),(18.82,0.4),(19.02,1.0),(19.22,2.7),(19.42,0.6),(19.62,0.1),(19.89,0.35),
         (20.16,0.25),(20.43,0.35),(20.77,0.35),(21.1,0.65),(21.44,0.9),(21.77,0.85),(22.11,0.6),(22.45,0.3),(22.78,0.15),(23.12,0.3),(23.45,0.45),(23.79,0.5),(24.13,0.4),(24.46,0.35),(24.8,0.3),(25.1,0.35),(25.47,0.4),(25.8,0.38),(26.14,0.4),(26.5,0.42),(26.81,0.45),(27.15,0.48),(27.49,0.5),(27.8,0.47),(28.16,0.5),(28.5,0.53),(28.83,0.55),(29.15,0.52),(29.5,0.55),(29.85,0.58),
         (30.17,0.6),(30.5,0.57),(30.85,0.55),(31.2,0.52),(31.52,0.5),(31.85,0.48),(32.19,0.45),(32.5,0.4),(32.86,0.35),(33.2,0.37),(33.53,0.35),(33.9,0.4),(34.21,0.45),(34.55,0.48),(34.88,0.5),(35.2,0.48),(35.55,0.45),(35.9,0.35),(36.22,0.2),(36.5,0.18),(36.76,0.15),(37.0,0.2),(37.23,0.3),(37.57,0.2),(37.9,0.35),(38.24,0.2),(38.58,0.9),(38.91,1.1),(39.18,0.3),(39.45,2.5),(39.72,4.3),(39.99,0.8),
         (40.26,3.5),(40.46,3.2),(40.66,1.0),(40.93,1.4),(41.13,2.2),(41.33,0.6),(41.6,0.35),(41.87,1.8),(42.14,1.1),(42.34,3.0),(42.54,0.6),(42.81,2.75),(43.08,1.8),(43.35,0.4),(43.62,1.8),(43.88,0.6),(44.15,1.0),(44.42,2.7),(44.69,0.5),(44.96,0.6),(45.23,1.2),(45.5,0.9),(45.77,0.4),(46.04,0.4),(46.3,0.8),(46.57,1.5),(46.84,1.2),(47.11,0.3),(47.38,0.45),(47.65,0.5),(47.92,0.8),(48.19,1.05),(48.45,0.8),(48.72,0.3),(48.99,0.1),(49.26,0.2),(49.53,0.8),(49.8,0.7),
         (50.07,0.3),(50.34,0.4),(50.67,0.15),(51.01,0.35),(51.34,0.4),(51.68,0.2),(52.02,0.15),(52.35,0.4),(52.62,0.5),(52.89,0.2),(53.16,0.4),(53.43,0.6),(53.7,0.3),(54.03,0.5),(54.37,0.6),(54.7,0.7),(55.04,0.75),(55.38,0.7),(55.71,0.95),(56.05,1.25),(56.38,1.35),(56.72,1.3),(57.06,1.45),(57.33,0.8),(57.59,0.3),(57.86,1.0),(58.13,2.2),(58.33,1.0),(58.53,2.75),(58.74,1.0),(58.94,2.8),(59.14,2.75),(59.34,2.5),(59.54,2.4),(59.74,2.5),(59.95,2.2),
         (60.15,3.45),(60.35,2.8),(60.55,0.5),(60.75,3.2),(60.95,2.2),(61.16,1.4),(61.36,1.0),(61.56,1.4),(61.76,1.2),(61.96,0.8),(62.16,3.2),(62.37,0.8),(62.57,1.35),(62.84,1.0),(63.1,1.2),(63.37,1.4),(63.58,1.6),(63.78,1.4),(64.05,0.9),(64.25,0.7),(64.45,1.2),(64.72,1.8),(64.92,1.5),(65.12,0.8),(65.32,0.9),(65.52,1.3),(65.73,1.8),(65.93,1.9),(66.13,1.2),(66.33,0.4),(66.53,1.0),(66.73,0.2),(66.94,1.0),(67.14,1.0),(67.34,0.6),(67.54,1.7),(67.74,2.2),(67.94,1.0),(68.15,1.5),(68.35,2.2),(68.55,1.5),(68.75,2.5),(68.95,2.5),(69.15,1.2),(69.35,1.1),(69.56,1.3),(69.76,0.9),(69.96,0.1),
         (70.16,0.4),(70.36,0.4),(70.63,0.9),(70.9,1.3),(71.17,2.6),(71.37,1.5),(71.57,1.2),(71.77,0.4),(71.98,0.3),(72.24,0.8),(72.51,0.6),(72.78,0.3),(73.05,0.7),(73.32,0.4),(73.59,0.9),(73.86,1.1),(74.19,0.8),(74.53,0.6),(74.87,0.3),(75.2,0.2),(75.54,0.15),(75.87,0.3),(76.21,0.4),(76.55,0.5),(76.88,0.5),(77.22,0.5),(77.55,0.45),(77.89,0.45),(78.23,0.35),(78.56,0.4),(78.9,0.35),(79.23,0.35),(79.57,0.25),(79.91,0.25),
         (80.24,0.2),(80.58,0.2),(80.91,0.2),(81.25,0.15),(81.59,0.1),(81.92,0.15),(82.26,0.1),(82.59,0.15),(82.93,0.1),(83.27,0.05),(83.6,0.1),(83.94,0.15),(84.27,0.2),(84.61,0.3),(84.95,0.4),(85.28,0.45),(85.62,0.35),(85.95,0.25),(86.29,0.2),(86.63,0.1),(86.96,0.05),(87.3,0.15),(87.63,0.2),(87.97,0.2),(88.31,0.25),(88.64,0.25),(88.98,0.3),(89.31,0.3),(89.65,0.25),(89.99,0.3),
         (90.32,0.25),(90.66,0.25),(90.99,0.2),(91.33,0.2),(91.67,0.15),(92.0,0.15),(92.34,0.1),(92.67,0.15),(93.01,0.1),(93.35,0.15),(93.68,0.1),(94.02,0.2),(94.35,0.1),(94.69,0.2),(95.03,0.35),(95.36,0.4),(95.7,0.35),(96.03,0.4),(96.37,0.35),(96.71,0.35),(97.04,0.4),(97.38,0.55),(97.72,0.7),(98.05,0.75),(98.39,0.6),(98.7,0.55),(99.05,0.6),(99.25,1.0),(99.5,2.95),(99.7,1.5),(99.9,0.65),
         (100.1,0.6),(100.35,1.1),(100.55,0.6),(100.75,0.35),(101.1,0.35),(101.4,0.4),(101.7,1.95),(101.9,1.3),(102.1,0.5),(102.3,1.3),(102.5,1.3)]

titles = [r"|Pi-D$^{\rm (e)}$|", r"|Pi-D$^{\rm (i)}$|", r"PVI (u$_{\rm e}$)", r"PVI (u$_{\rm i}$)", "PVI (b)"]
title_pos = [(48.2, 6.0), (48.2, 4.26), (48.0, 5.6), (48.0, 3.85), (48.4, 5.5)]
box_e = [("1", 8.5, 2.87), ("2", 18.0, 5.15), ("3", 40.3, 3.2), ("4", 60.6, 5.8), ("5", 67.9, 5.6)]
box_i = [("1", 6.95, 2.62), ("2", 17.9, 3.98), ("3", 45.0, 3.44), ("4", 61.95, 2.93), ("5", 67.9, 4.32)]

series = [pid_e, pid_i, pvi_ue, pvi_ui, pvi_b]
colors = ["#dd0000", "#dd0000", "black", "black", "#ff8c00"]
ylims = [(-0.5, 7.0), (-0.5, 5.0), (-0.5, 6.5), (-0.5, 4.5), (-0.5, 6.5)]

sns.set_style("ticks")
plt.rcParams["font.family"] = ["Liberation Serif", "DejaVu Serif"]
plt.rcParams["mathtext.fontset"] = "custom"
plt.rcParams["mathtext.rm"] = "Liberation Serif"
plt.rcParams["mathtext.it"] = "Liberation Serif:italic"

fig = plt.figure(figsize=(12.05, 11.92), dpi=100)
edges = [0.9975, 0.8066, 0.6141, 0.4211, 0.2299, 0.0369]
axes = []
for k in range(5):
    ax = fig.add_axes([0.0515, edges[k + 1], 0.8962, edges[k] - edges[k + 1]])
    df = pd.DataFrame(series[k], columns=["x", "y"])
    sns.lineplot(data=df, x="x", y="y", ax=ax, color=colors[k], lw=0.9,
                 estimator=None, sort=False)
    ax.set_xlim(0, 102.5)
    ax.set_ylim(*ylims[k])
    ax.set_xlabel("")
    ax.set_ylabel("")
    ax.xaxis.set_major_locator(MultipleLocator(20))
    ax.xaxis.set_minor_locator(MultipleLocator(5))
    ax.yaxis.set_major_locator(MultipleLocator(2))
    ax.yaxis.set_minor_locator(MultipleLocator(0.5))
    ax.tick_params(which="both", direction="in", top=True, right=True, width=1.0, colors="#333333")
    ax.tick_params(which="major", length=9, labelsize=14, pad=8, labelcolor="black")
    ax.tick_params(which="minor", length=5)
    ax.tick_params(axis="x", pad=3)
    if k < 4:
        ax.tick_params(axis="x", labelbottom=False)
    for s in ax.spines.values():
        s.set_linewidth(1.2)
    ax.text(title_pos[k][0], title_pos[k][1], titles[k], ha="center", va="center", fontsize=15)
    axes.append(ax)

for lab, bx, by in box_e:
    axes[0].text(bx, by, lab, ha="center", va="center", fontsize=15, color="black",
                 bbox=dict(boxstyle="square,pad=0.12", fc="white", ec="black", lw=0.9))
for lab, bx, by in box_i:
    axes[1].text(bx, by, lab, ha="center", va="center", fontsize=15, color="#2020e0",
                 bbox=dict(boxstyle="square,pad=0.12", fc="white", ec="#3030ff", lw=0.9))

fig.text(0.4855, 0.0155, r"X(d$_{\rm i}$)", ha="center", va="center", fontsize=15)

fig.savefig("out.png", dpi=100)
